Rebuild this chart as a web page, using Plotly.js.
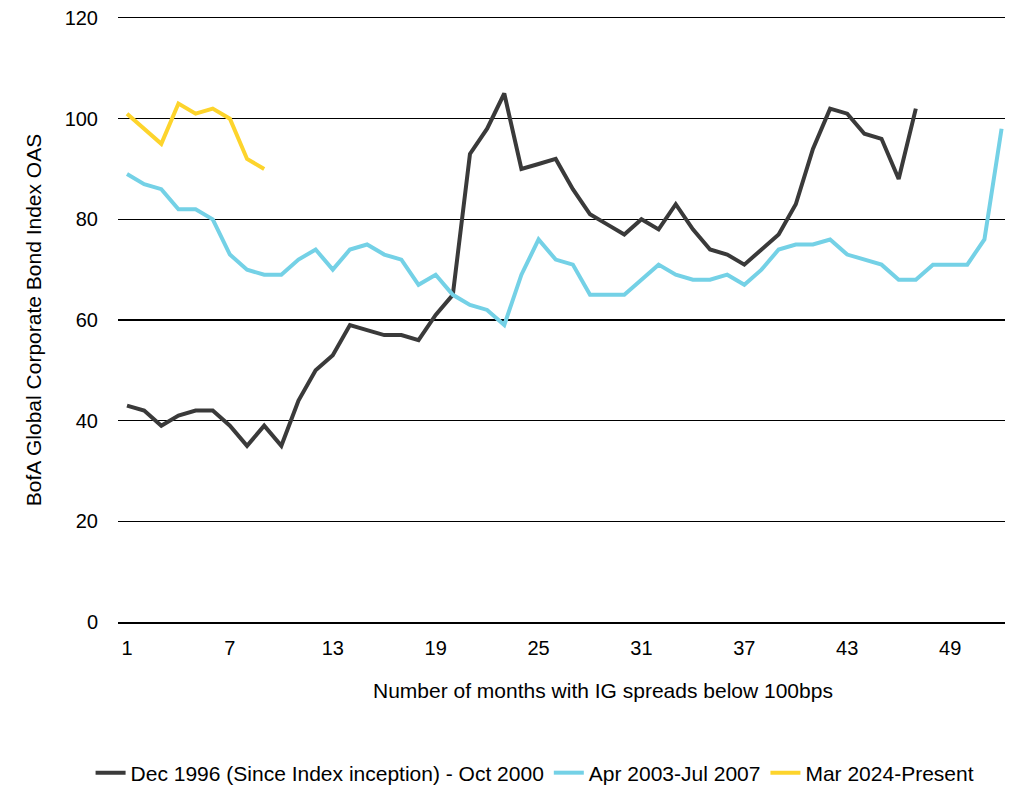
<!DOCTYPE html>
<html>
<head>
<meta charset="utf-8">
<script src="https://cdn.plot.ly/plotly-3.0.1.min.js"></script>
<style>
html,body{margin:0;padding:0;background:#fff}
#chart{width:1029px;height:788px}
</style>
</head>
<body>
<div id="chart"></div>
<script>
const months1996 = [1,2,3,4,5,6,7,8,9,10,11,12,13,14,15,16,17,18,19,20,21,22,23,24,25,26,27,28,29,30,31,32,33,34,35,36,37,38,39,40,41,42,43,44,45,46,47];
const oas1996 = [43,42,39,41,42,42,39,35,39,35,44,50,53,59,58,57,57,56,61,65,93,98,105,90,91,92,86,81,79,77,80,78,83,78,74,73,71,74,77,83,94,102,101,97,96,88,102];
const months2003 = [1,2,3,4,5,6,7,8,9,10,11,12,13,14,15,16,17,18,19,20,21,22,23,24,25,26,27,28,29,30,31,32,33,34,35,36,37,38,39,40,41,42,43,44,45,46,47,48,49,50,51,52];
const oas2003 = [89,87,86,82,82,80,73,70,69,69,72,74,70,74,75,73,72,67,69,65,63,62,59,69,76,72,71,65,65,65,68,71,69,68,68,69,67,70,74,75,75,76,73,72,71,68,68,71,71,71,76,98];
const months2024 = [1,2,3,4,5,6,7,8,9];
const oas2024 = [101,98,95,103,101,102,100,92,90];
const seriesNames = ["Dec 1996 (Since Index inception) - Oct 2000", "Apr 2003-Jul 2007", "Mar 2024-Present"];
const xTickVals = [1,7,13,19,25,31,37,43,49];
const yTickVals = [0,20,40,60,80,100,120];
const xTitle = "Number of months with IG spreads below 100bps";
const yTitle = "BofA Global Corporate Bond Index OAS";

const font = "Liberation Sans, Arial, sans-serif";
const traces = [
  {x: months1996, y: oas1996, name: seriesNames[0], mode: "lines", line: {color: "#3a3a3a", width: 4}},
  {x: months2003, y: oas2003, name: seriesNames[1], mode: "lines", line: {color: "#74d1e6", width: 4}},
  {x: months2024, y: oas2024, name: seriesNames[2], mode: "lines", line: {color: "#fdd42c", width: 4}}
];
const layout = {
  width: 1029, height: 788,
  margin: {l: 118, r: 24, t: 18, b: 166},
  paper_bgcolor: "#fff", plot_bgcolor: "#fff",
  font: {family: font, size: 21, color: "#000"},
  showlegend: true,
  legend: {orientation: "h", x: 0.52, xanchor: "center", xref: "container", yref: "container", y: 0.019, yanchor: "middle", font: {size: 21}, itemwidth: 30, tracegroupgap: 0},
  xaxis: {
    range: [0.475, 52.2], tickvals: xTickVals, ticktext: xTickVals.map(String),
    showgrid: false, zeroline: false, showline: true, mirror: true, linecolor: "#000", linewidth: 1.5,
    ticks: "", ticklen: 0, ticklabelstandoff: 7, automargin: false,
    tickfont: {size: 20}
  },
  yaxis: {
    range: [0, 120], tickvals: yTickVals, showgrid: true, gridcolor: "#000", gridwidth: 1.5,
    zeroline: false, showline: false, ticks: "", ticklabelstandoff: 19, automargin: false,
    tickfont: {size: 20},
    title: {text: yTitle, font: {size: 21}, standoff: 17}
  },
  annotations: [{
    text: xTitle, xref: "paper", yref: "paper", x: 0.547, y: -0.114,
    xanchor: "center", yanchor: "middle", showarrow: false, font: {size: 21}
  }]
};
Plotly.newPlot("chart", traces, layout, {displayModeBar: false, staticPlot: true});
</script>
</body>
</html>
